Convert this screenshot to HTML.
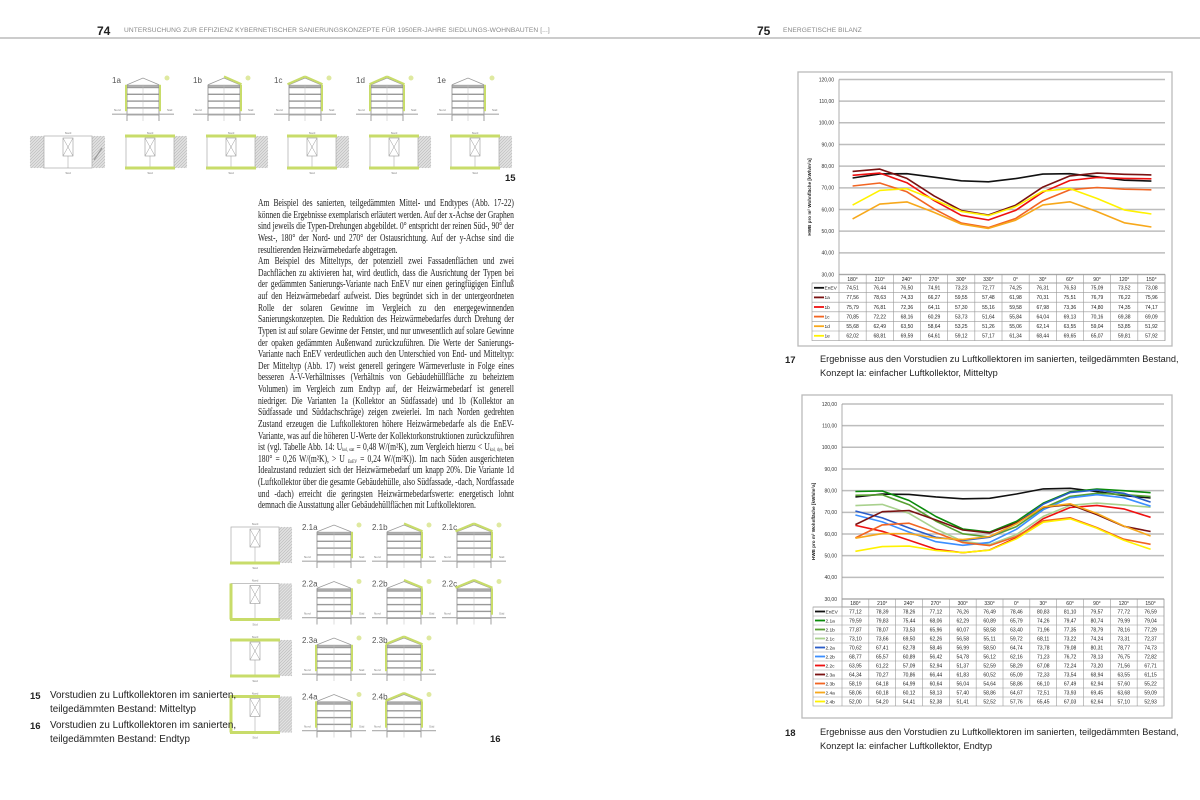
<!DOCTYPE html>
<html><head><meta charset="utf-8">
<style>
html,body{margin:0;padding:0;background:#fff;}
body{width:1200px;height:800px;position:relative;overflow:hidden;font-family:"Liberation Sans",sans-serif;}
.abs{position:absolute;}
.hdr{top:27px;font-size:6.6px;color:#888;letter-spacing:0.1px;white-space:nowrap;}
.pn{top:24px;font-size:12px;font-weight:bold;color:#222;}
.txt{left:258px;top:198px;width:344px;transform:scaleX(0.744);transform-origin:0 0;font-family:"Liberation Serif",serif;font-size:10.2px;line-height:11.62px;text-align:justify;color:#222;}
.txt sub{font-size:5px;line-height:0;vertical-align:-1px;}
.cap{font-size:9.9px;line-height:13.5px;color:#222;white-space:nowrap;}
.capr{font-size:9.2px;line-height:13.5px;color:#222;white-space:nowrap;}
.capn{font-size:9.5px;font-weight:bold;color:#222;}
</style></head><body>
<div class="abs" style="left:0;top:37px;width:1200px;height:2px;background:#ccc"></div>
<div class="abs pn" style="left:97px">74</div>
<div class="abs hdr" style="left:124px">UNTERSUCHUNG ZUR EFFIZIENZ KYBERNETISCHER SANIERUNGSKONZEPTE FÜR 1950ER-JAHRE SIEDLUNGS-WOHNBAUTEN [...]</div>
<div class="abs pn" style="left:757px">75</div>
<div class="abs hdr" style="left:783px">ENERGETISCHE BILANZ</div>

<svg id="left" class="abs" style="left:0;top:0" width="600" height="800"></svg>

<div class="abs txt">Am Beispiel des sanierten, teilgedämmten Mittel- und Endtypes (Abb. 17-22) können die Ergebnisse exemplarisch erläutert werden. Auf der x-Achse der Graphen sind jeweils die Typen-Drehungen abgebildet. 0° entspricht der reinen Süd-, 90° der West-, 180° der Nord- und 270° der Ostausrichtung. Auf der y-Achse sind die resultierenden Heizwärmebedarfe abgetragen.<br>Am Beispiel des Mitteltyps, der potenziell zwei Fassadenflächen und zwei Dachflächen zu aktivieren hat, wird deutlich, dass die Ausrichtung der Typen bei der gedämmten Sanierungs-Variante nach EnEV nur einen geringfügigen Einfluß auf den Heizwärmebedarf aufweist. Dies begründet sich in der untergeordneten Rolle der solaren Gewinne im Vergleich zu den energegewinnenden Sanierungskonzepten. Die Reduktion des Heizwärmebedarfes durch Drehung der Typen ist auf solare Gewinne der Fenster, und nur unwesentlich auf solare Gewinne der opaken gedämmten Außenwand zurückzuführen. Die Werte der Sanierungs-Variante nach EnEV verdeutlichen auch den Unterschied von End- und Mitteltyp: Der Mitteltyp (Abb. 17) weist generell geringere Wärmeverluste in Folge eines besseren A-V-Verhältnisses (Verhältnis von Gebäudehüllfläche zu beheiztem Volumen) im Vergleich zum Endtyp auf, der Heizwärmebedarf ist generell niedriger. Die Varianten 1a (Kollektor an Südfassade) und 1b (Kollektor an Südfassade und Süddachschräge) zeigen zweierlei. Im nach Norden gedrehten Zustand erzeugen die Luftkollektoren höhere Heizwärmebedarfe als die EnEV-Variante, was auf die höheren U-Werte der Kollektorkonstruktionen zurückzuführen ist (vgl. Tabelle Abb. 14: U<sub>kol, stat</sub> = 0,48 W/(m²K), zum Vergleich hierzu &lt; U<sub>kol, dyn</sub> bei 180° = 0,26 W/(m²K), &gt; U <sub>EnEV</sub> = 0,24 W/(m²K)). Im nach Süden ausgerichteten Idealzustand reduziert sich der Heizwärmebedarf um knapp 20%. Die Variante 1d (Luftkollektor über die gesamte Gebäudehülle, also Südfassade, -dach, Nordfassade und -dach) erreicht die geringsten Heizwärmebedarfswerte: energetisch lohnt demnach die Ausstattung aller Gebäudehüllflächen mit Luftkollektoren.</div>

<div class="abs capn" style="left:30px;top:691px">15</div>
<div class="abs cap" style="left:50px;top:689px">Vorstudien zu Luftkollektoren im sanierten,<br>teilgedämmten Bestand: Mitteltyp</div>
<div class="abs capn" style="left:30px;top:721px">16</div>
<div class="abs cap" style="left:50px;top:719px">Vorstudien zu Luftkollektoren im sanierten,<br>teilgedämmten Bestand: Endtyp</div>
<div class="abs capn" style="left:505px;top:173px">15</div>
<div class="abs capn" style="left:490px;top:734px">16</div>

<svg id="right" class="abs" style="left:600px;top:0" width="600" height="800"></svg>

<div class="abs capn" style="left:785px;top:355px">17</div>
<div class="abs capr" style="left:820px;top:353px">Ergebnisse aus den Vorstudien zu Luftkollektoren im sanierten, teilgedämmten Bestand,<br>Konzept Ia: einfacher Luftkollektor, Mitteltyp</div>
<div class="abs capn" style="left:785px;top:728px">18</div>
<div class="abs capr" style="left:820px;top:726px">Ergebnisse aus den Vorstudien zu Luftkollektoren im sanierten, teilgedämmten Bestand,<br>Konzept Ia: einfacher Luftkollektor, Endtyp</div>

<script>
var NS="http://www.w3.org/2000/svg";
function el(p,t,a,txt){var e=document.createElementNS(NS,t);for(var k in a)e.setAttribute(k,a[k]);if(txt!==undefined)e.textContent=txt;p.appendChild(e);return e;}
var G="#c8dc6a";
var L=document.getElementById("left");
function hatch(x,y,w,h){el(L,"rect",{x:x,y:y,width:w,height:h,fill:"#e2e2e2"});
 for(var i=-h;i<w;i+=3){el(L,"line",{x1:x+Math.max(i,0),y1:y+h-Math.max(0,-i),x2:x+Math.min(i+h,w),y2:y+h-Math.min(h,w-i),stroke:"#bbb","stroke-width":0.6});}}
function plan(x,y,w,h,g,hl){
 if(hl)hatch(x-14,y,14,h);
 hatch(x+w,y,13,h);
 el(L,"rect",{x:x,y:y,width:w,height:h,fill:"#fff",stroke:"#aaa","stroke-width":0.7});
 var cx=x+w/2;el(L,"rect",{x:cx-5,y:y+2,width:10,height:18,fill:"none",stroke:"#999","stroke-width":0.6});
 el(L,"path",{d:"M"+(cx-5)+" "+(y+2)+"L"+(cx+5)+" "+(y+20)+"M"+(cx+5)+" "+(y+2)+"L"+(cx-5)+" "+(y+20)+"M"+cx+" "+(y+20)+"V"+(y+h),stroke:"#999","stroke-width":0.5,fill:"none"});
 el(L,"text",{x:cx,y:y-2,"font-size":3,fill:"#777","text-anchor":"middle"},"Nord");
 el(L,"text",{x:cx,y:y+h+6,"font-size":3,fill:"#777","text-anchor":"middle"},"Süd");
 if(g.indexOf("t")>=0)el(L,"rect",{x:x-1,y:y-1.5,width:w+2,height:3,fill:G});
 if(g.indexOf("b")>=0)el(L,"rect",{x:x-1,y:y+h-1.5,width:w+2,height:3,fill:G});
 if(g.indexOf("l")>=0)el(L,"rect",{x:x-1.5,y:y,width:3,height:h,fill:G});
}
function house(x,top,w,h,g,lab){
 var rh=h*0.17, base=top+h, eave=top+rh, fl=4, bh=(base-eave-6)/fl;
 el(L,"path",{d:"M"+x+" "+eave+"L"+(x+w/2)+" "+top+"L"+(x+w)+" "+eave,fill:"none",stroke:"#999","stroke-width":0.8});
 el(L,"rect",{x:x,y:eave,width:w,height:2,fill:"#aaa"});
 for(var i=0;i<=fl;i++){el(L,"rect",{x:x,y:eave+2+i*bh,width:w,height:1.4,fill:"#999"});}
 el(L,"line",{x1:x,y1:eave,x2:x,y2:base+3,stroke:"#888","stroke-width":0.8});
 el(L,"line",{x1:x+w,y1:eave,x2:x+w,y2:base+3,stroke:"#888","stroke-width":0.8});
 el(L,"line",{x1:x+w/2,y1:eave,x2:x+w/2,y2:base+3,stroke:"#bbb","stroke-width":0.5});
 el(L,"line",{x1:x-15,y1:base-bh+3,x2:x+w+15,y2:base-bh+3,stroke:"#aaa","stroke-width":1.2});
 el(L,"text",{x:x-13,y:base-bh,"font-size":3,fill:"#777"},"Nord");
 el(L,"text",{x:x+w+8,y:base-bh,"font-size":3,fill:"#777"},"Süd");
 if(g.indexOf("R")>=0)el(L,"rect",{x:x+w,y:eave,width:2,height:base-bh-eave,fill:G});
 if(g.indexOf("L")>=0)el(L,"rect",{x:x-2,y:eave,width:2,height:base-bh-eave,fill:G});
 if(g.indexOf("r")>=0)el(L,"path",{d:"M"+(x+w/2)+" "+(top-1.5)+"L"+(x+w+1.5)+" "+(eave-0.5),stroke:G,"stroke-width":2.2});
 if(g.indexOf("l")>=0)el(L,"path",{d:"M"+(x+w/2)+" "+(top-1.5)+"L"+(x-1.5)+" "+(eave-0.5),stroke:G,"stroke-width":2.2});
 el(L,"circle",{cx:x+w+8,cy:top,r:2.5,fill:"#dfe9a0"});
 el(L,"text",{x:x-15,y:top+5,"font-size":8,fill:"#555"},lab);
}
plan(44,136,48,32,"",true);
el(L,"line",{x1:94,y1:160,x2:102,y2:148,stroke:"#999","stroke-width":1.2});
var px=[126,207,288,370,451],hg=["LR","Rr","Rrl","LRrl","R"],lb=["1a","1b","1c","1d","1e"];
for(var i=0;i<5;i++){plan(px[i],136,48,32,"tb",false);house(px[i]+1,78,32,40,hg[i],lb[i]);}
var rows=[[ "b",["2.1a","2.1b","2.1c"],["R","Rr","Rrl"]],["bl",["2.2a","2.2b","2.2c"],["R","Rr","Rrl"]],["tb",["2.3a","2.3b"],["LR","LRrl"]],["tbl",["2.4a","2.4b"],["LR","LRrl"]]];
for(var r=0;r<4;r++){var y=525+r*56.5;plan(231,y+2,48,36,rows[r][0],false);
 for(var c=0;c<rows[r][1].length;c++)house(317+c*70,y,34,40,rows[r][2][c],rows[r][1][c]);}

var R=document.getElementById("right");
function chart(o){
 var X0=o.bx-600,s=R;
 el(s,"rect",{x:X0,y:o.by,width:o.bw,height:o.bh,fill:"#fff",stroke:"#bbb","stroke-width":1.3});
 var px0=o.px0-600,px1=o.px1-600,n=12,cw=(px1-px0)/n;
 function Y(v){return o.y30-(v-30)*o.k;}
 for(var v=30;v<=120;v+=10){el(s,"line",{x1:px0,y1:Y(v),x2:px1,y2:Y(v),stroke:"#bdbdbd","stroke-width":1.5});
  el(s,"text",{x:px0-5,y:Y(v)+1.8,"font-size":5,fill:"#333","text-anchor":"end"},v.toFixed(2).replace(".",","));}
 el(s,"line",{x1:px0,y1:Y(120),x2:px0,y2:Y(30),stroke:"#999","stroke-width":0.8});
 el(s,"text",{transform:"translate("+(o.bx-600+13)+","+((Y(30)+Y(120))/2+20)+") rotate(-90)","font-size":4.6,fill:"#222","font-weight":"bold","text-anchor":"middle"},"HWB pro m² Wohnfläche  [kWh/m²a]");
 o.series.forEach(function(se){var d="";se[2].forEach(function(v,i){d+=(i?"L":"M")+(px0+cw*(i+0.5)).toFixed(1)+" "+Y(v).toFixed(1);});
  el(s,"path",{d:d,fill:"none",stroke:se[1],"stroke-width":1.6,"stroke-linejoin":"round"});});
 var lx=o.lx-600,ty=Y(30),hh=o.hh,rh=o.rh,nr=o.series.length,tb=ty+hh+nr*rh;
 var cols=["180°","210°","240°","270°","300°","330°","0°","30°","60°","90°","120°","150°"];
 el(s,"rect",{x:px0,y:ty,width:px1-px0,height:hh,fill:"none",stroke:"#999","stroke-width":0.6});
 el(s,"rect",{x:lx,y:ty+hh,width:px1-lx,height:nr*rh,fill:"none",stroke:"#999","stroke-width":0.6});
 for(var i=0;i<=n;i++)el(s,"line",{x1:px0+i*cw,y1:ty,x2:px0+i*cw,y2:tb,stroke:"#999","stroke-width":0.6});
 cols.forEach(function(c,i){el(s,"text",{x:px0+cw*(i+0.5),y:ty+hh-2,"font-size":5,fill:"#222","text-anchor":"middle"},c);});
 o.series.forEach(function(se,r){var yy=ty+hh+r*rh;
  el(s,"line",{x1:lx,y1:yy,x2:px1,y2:yy,stroke:"#999","stroke-width":0.6});
  el(s,"line",{x1:lx+2,y1:yy+rh/2,x2:lx+12,y2:yy+rh/2,stroke:se[1],"stroke-width":1.8});
  el(s,"text",{x:lx+12.5,y:yy+rh/2+1.8,"font-size":4.8,fill:"#222"},se[0]);
  se[2].forEach(function(v,i){el(s,"text",{x:px0+cw*(i+0.5),y:yy+rh/2+1.8,"font-size":5,fill:"#222","text-anchor":"middle"},v.toFixed(2).replace(".",","));});});
}
chart({bx:798,by:72,bw:374,bh:274,px0:839,px1:1165,y30:274.5,k:2.167,lx:812,hh:8.5,rh:9.6,series:[
["EnEV","#111",[74.51,76.44,76.50,74.91,73.23,72.77,74.25,76.31,76.53,75.09,73.52,73.08]],
["1a","#7a1212",[77.56,78.63,74.33,66.27,59.55,57.48,61.98,70.31,75.51,76.79,76.22,75.96]],
["1b","#ee1111",[75.79,76.81,72.36,64.11,57.30,55.16,59.58,67.98,73.36,74.80,74.35,74.17]],
["1c","#f26522",[70.85,72.22,68.16,60.29,53.73,51.64,55.84,64.04,69.13,70.16,69.38,69.09]],
["1d","#f7a81b",[55.68,62.49,63.50,58.64,53.25,51.26,55.06,62.14,63.55,59.04,53.85,51.92]],
["1e","#fff200",[62.02,68.81,69.59,64.61,59.12,57.17,61.34,68.44,69.65,65.07,59.81,57.92]]]});
chart({bx:802,by:395,bw:370,bh:323,px0:842,px1:1164,y30:599,k:2.167,lx:813,hh:8,rh:9,series:[
["EnEV","#111",[77.12,78.39,78.26,77.12,76.26,76.49,78.46,80.83,81.10,79.57,77.72,76.59]],
["2.1a","#0a8a0a",[79.59,79.83,75.44,68.06,62.29,60.89,65.79,74.26,79.47,80.74,79.99,79.04]],
["2.1b","#58a032",[77.87,78.07,73.53,65.96,60.07,58.58,63.40,71.96,77.35,78.79,78.16,77.29]],
["2.1c","#a9d18e",[73.10,73.66,69.50,62.26,56.58,55.11,59.72,68.11,73.22,74.24,73.31,72.37]],
["2.2a","#2a5cc8",[70.62,67.41,62.78,58.46,56.99,58.50,64.74,73.78,79.08,80.31,78.77,74.73]],
["2.2b","#3b8eff",[68.77,65.57,60.89,56.42,54.78,56.12,62.16,71.23,76.72,78.13,76.75,72.82]],
["2.2c","#ee1111",[63.95,61.22,57.09,52.94,51.37,52.59,58.29,67.08,72.24,73.20,71.56,67.71]],
["2.3a","#7a1212",[64.34,70.27,70.86,66.44,61.83,60.52,65.09,72.33,73.54,68.94,63.55,61.15]],
["2.3b","#f26522",[58.19,64.18,64.99,60.64,56.04,54.64,58.86,66.10,67.49,62.94,57.60,55.22]],
["2.4a","#f7a81b",[58.06,60.18,60.12,58.13,57.40,58.86,64.67,72.51,73.93,69.45,63.68,59.09]],
["2.4b","#fff200",[52.00,54.20,54.41,52.38,51.41,52.52,57.76,65.45,67.03,62.64,57.10,52.93]]]});
</script>
</body></html>
